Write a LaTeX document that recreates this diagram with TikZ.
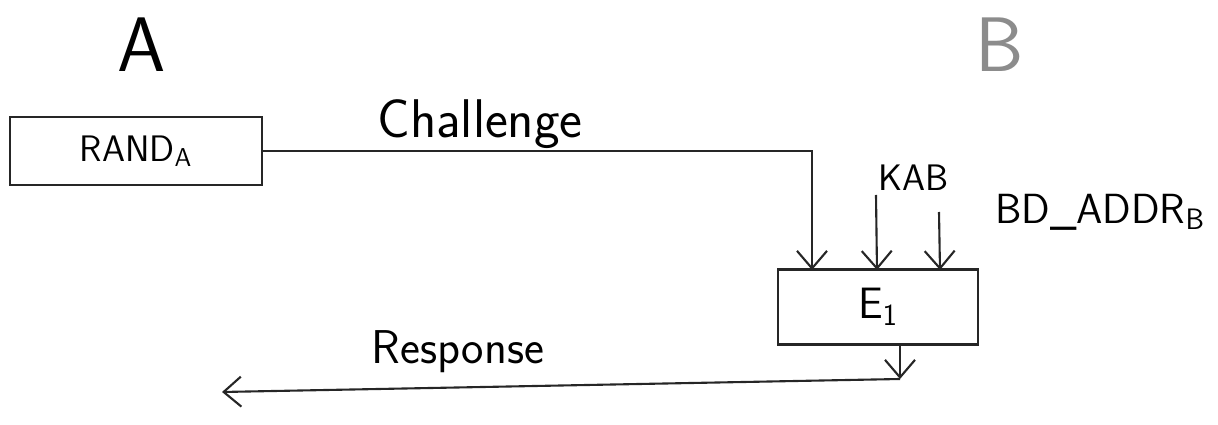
\documentclass[tikz,border=0pt]{standalone}
\usetikzlibrary{arrows.meta}
\tikzset{
  hand/.style={line width=1.2pt, draw=black!85},
  blockbox/.style={draw=black!85, line width=1.2pt, inner sep=0pt},
  >={Straight Barb[length=3.5mm,width=6mm]}
}
\begin{document}
\begin{tikzpicture}[x=0.02cm, y=-0.02cm]
  \useasboundingbox (0,0) rectangle (1218,425);
  \sffamily

  % parties
  \node (pa) at (142,45) {\fontsize{44}{48}\selectfont A};
  \node[text=black!45] (pb) at (1000,45) {\fontsize{44}{48}\selectfont B};

  % blocks
  \node[blockbox, minimum width=5.04cm, minimum height=1.36cm] (randa) at (136,151) {\fontsize{21}{24}\selectfont RAND\textsubscript{A}};
  \node[blockbox, minimum width=4cm, minimum height=1.5cm] (eone) at (878,307) {\fontsize{25}{29}\selectfont E\textsubscript{1}};

  % labels
  \node (chal) at (480,124) {\fontsize{31}{35}\selectfont Challenge};
  \node (kab) at (914,178) {\fontsize{21}{24}\selectfont KAB};
  \node (bdaddr) at (1100,212) {\fontsize{24}{28}\selectfont BD\_ADDR\textsubscript{B}};
  \node (resp) at (458,352) {\fontsize{27}{31}\selectfont Response};

  \coordinate (in1) at (812,270);
  \coordinate (in2) at (877,270);
  \coordinate (in3) at (940,270);
  \coordinate (kabtop) at (876,195);
  \coordinate (bdtop) at (939,212);
  \coordinate (outend) at (900,379);
  \coordinate (respend) at (222,392);

  % connectors
  \draw[hand,->] (randa.east) -| (in1);
  \draw[hand,->] (kabtop) -- (in2);
  \draw[hand,->] (bdtop) -- (in3);
  \draw[hand,->] (eone.south -| outend) -- (outend);
  \draw[hand,->] (outend) -- (respend);
\end{tikzpicture}
\end{document}
